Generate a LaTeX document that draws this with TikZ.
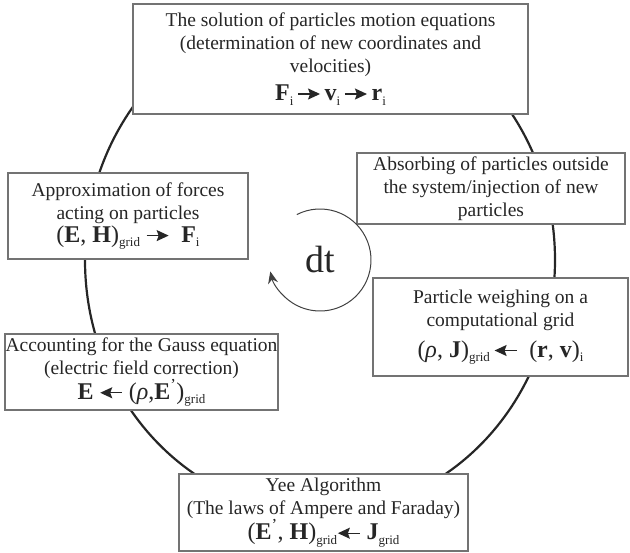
\documentclass[tikz,border=0pt]{standalone}
\usepackage{fontspec}
\setmainfont{Liberation Serif}
\usetikzlibrary{arrows.meta,positioning}

\newcommand{\rarr}{\tikz[baseline=-0.6ex]\draw[-{Stealth[length=12pt,width=11pt,inset=2pt]}, line width=1.3pt] (0pt,0pt) -- (22pt,0pt);}
\newcommand{\larr}{\tikz[baseline=-0.6ex]\draw[{Stealth[length=12pt,width=11pt,inset=2pt]}-, line width=1.3pt] (0pt,0pt) -- (22pt,0pt);}
\newcommand{\lsub}[1]{\raisebox{-4.5pt}{\fontsize{13}{13}\selectfont #1}}
\newcommand{\bv}[1]{\textbf{#1}}
\newcommand{\frm}{\fontsize{24}{27}\selectfont}

\begin{document}
\begin{tikzpicture}[x=1pt, y=1pt, >=Stealth,
  stagebox/.style={draw=black!55, line width=1.2pt, fill=white, align=center,
    inner sep=0pt, text=black!85, font=\rmfamily\fontsize{19.5}{23}\selectfont}]
  \useasboundingbox (0,0) rectangle (630,-553);
  \coordinate (C) at (320,-260);
  % main cycle
  \draw[line width=2.2pt, black!85] (C) ellipse [x radius=235pt, y radius=253pt];
  % stages of the cycle
  \node[stagebox, minimum width=395pt, minimum height=110pt] (motion) at (330.5,-59)
    {The solution of particles motion equations\\(determination of new coordinates and\\velocities)\\[5pt]
     {\frm \bv{F}\lsub{i}\,\rarr\,\bv{v}\lsub{i}\,\rarr\,\bv{r}\lsub{i}}};
  \node[stagebox, minimum width=268pt, minimum height=71pt] (absorb) at (491,-188.5)
    {Absorbing of particles outside\\the system/injection of new\\particles};
  \node[stagebox, minimum width=240pt, minimum height=86pt] (forces) at (128,-216)
    {Approximation of forces\\acting on particles\\
     {\frm (\bv{E}, \bv{H})\lsub{grid}\ \rarr\ \ \bv{F}\lsub{i}}};
  \node[stagebox, minimum width=255pt, minimum height=98pt] (weigh) at (500.5,-327)
    {Particle weighing on a\\computational grid\\[8pt]
     {\frm ({\itshape ρ}, \bv{J})\lsub{grid}\,\larr\ \ (\bv{r}, \bv{v})\lsub{i}}};
  \node[stagebox, minimum width=273pt, minimum height=76pt] (gauss) at (141.5,-372)
    {Accounting for the Gauss equation\\(electric field correction)\\
     {\frm \bv{E}\ \larr\ ({\itshape ρ},\bv{E}\textsuperscript{'})\lsub{grid}}};
  \node[stagebox, minimum width=289pt, minimum height=77pt] (yee) at (323.5,-512.5)
    {Yee Algorithm\\(The laws of Ampere and Faraday)\\
     {\frm (\bv{E}\textsuperscript{'}, \bv{H})\lsub{grid}\larr\ \bv{J}\lsub{grid}}};
  % time step
  \node[text=black!85, font=\rmfamily\fontsize{38}{38}\selectfont] (dt) at (C) {dt};
  \draw[line width=1pt, black!75, -{Stealth[length=12pt,width=10pt]}]
    ([shift={(117:51pt)}]C) arc[start angle=117, end angle=-167, radius=51pt];
\end{tikzpicture}
\end{document}
